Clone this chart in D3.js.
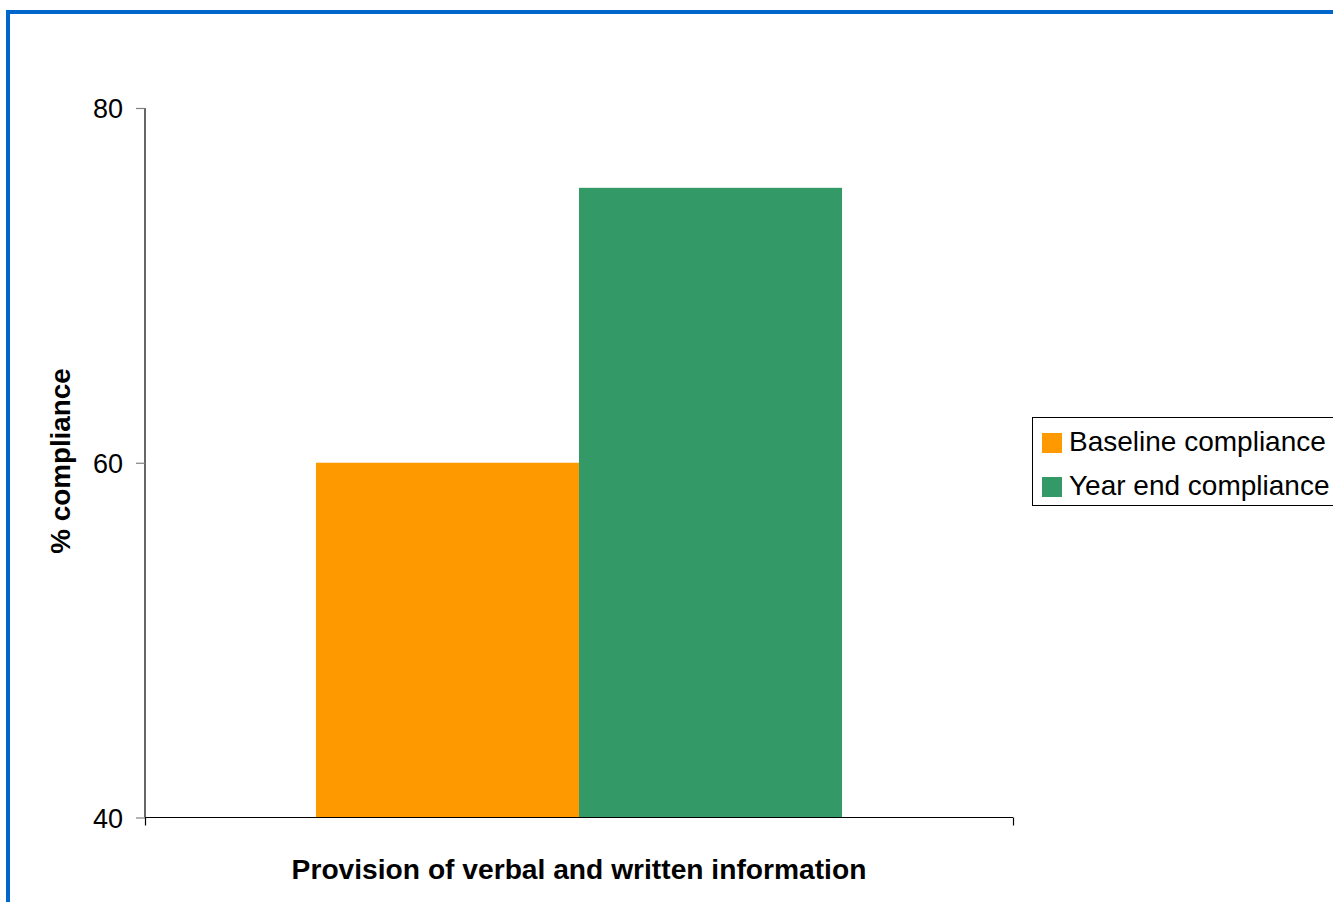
<!DOCTYPE html>
<html><head><meta charset="utf-8">
<script src="https://cdn.jsdelivr.net/npm/d3@7"></script>
<style>html,body{margin:0;padding:0;background:#fff;overflow:hidden}</style>
</head><body>
<svg id="chart" width="1333" height="902"></svg>
<script>
const categories = ["Provision of verbal and written information"];
const seriesNames = ["Baseline compliance", "Year end compliance"];
const seriesValues = [60, 75.5];
const seriesColors = ["#FF9900", "#339966"];
const yTicks = [40, 60, 80];

const svg = d3.select("#chart");
const font = "Liberation Sans, Arial, sans-serif";

// blue frame
svg.append("rect").attr("x", 8).attr("y", 12).attr("width", 1400).attr("height", 1000)
  .attr("fill", "none").attr("stroke", "#0066CC").attr("stroke-width", 4);

const plot = {left: 145, right: 1013, top: 108, bottom: 817.5};
const y = d3.scaleLinear().domain([40, 80]).range([plot.bottom, plot.top]);
const x0 = d3.scaleBand().domain(categories).range([plot.left, plot.right]).paddingInner(0).paddingOuter(0.325);
const x1 = d3.scaleBand().domain(seriesNames).range([0, x0.bandwidth()]).padding(0);

// bars
const g = svg.append("g");
categories.forEach(c => {
  seriesNames.forEach((s, i) => {
    g.append("rect")
      .attr("x", x0(c) + x1(s))
      .attr("y", y(seriesValues[i]))
      .attr("width", x1.bandwidth())
      .attr("height", y(40) - y(seriesValues[i]))
      .attr("fill", seriesColors[i]);
  });
});

// y axis
const yAxis = d3.axisLeft(y).tickValues(yTicks).tickSize(9).tickPadding(13).tickFormat(d3.format("d"));
const ya = svg.append("g").attr("transform", `translate(${plot.left},0)`).call(yAxis);
ya.select(".domain").attr("stroke", "#000").attr("stroke-width", 1.2).attr("d", `M0,${plot.top}V${plot.bottom}`);
ya.selectAll(".tick line").attr("stroke", "#808080").attr("stroke-width", 1.2);
ya.selectAll(".tick text").attr("font-family", font).attr("font-size", 27).attr("fill", "#000").attr("dy", "0.36em");

// x axis
const xEdges = d3.scaleLinear().domain([0, 1]).range([plot.left, plot.right]);
const xAxis = d3.axisBottom(xEdges).tickValues([0, 1]).tickSize(8).tickFormat("");
const xa = svg.append("g").attr("transform", `translate(0,${plot.bottom})`).call(xAxis);
xa.select(".domain").attr("stroke", "#000").attr("stroke-width", 1.2).attr("d", `M${plot.left},0H${plot.right}`);
xa.selectAll(".tick line").attr("stroke", "#000").attr("stroke-width", 1.2);

// axis titles
svg.append("text").attr("x", x0(categories[0]) + x0.bandwidth() / 2).attr("y", 879)
  .attr("text-anchor", "middle").attr("font-family", font).attr("font-weight", "bold")
  .attr("font-size", 28.2).text(categories[0]);

svg.append("text").attr("transform", "translate(70,461) rotate(-90)")
  .attr("text-anchor", "middle").attr("font-family", font).attr("font-weight", "bold")
  .attr("font-size", 27.8).text("% compliance");

// legend
const lg = svg.append("g");
lg.append("rect").attr("x", 1032.5).attr("y", 417.5).attr("width", 320).attr("height", 88)
  .attr("fill", "#fff").attr("stroke", "#000").attr("stroke-width", 1);
seriesNames.forEach((s, i) => {
  lg.append("rect").attr("x", 1042).attr("y", 433 + i * 44).attr("width", 20).attr("height", 20)
    .attr("fill", seriesColors[i]);
  lg.append("text").attr("x", 1069).attr("y", 451 + i * 44)
    .attr("font-family", font).attr("font-size", 28).attr("fill", "#000").text(s);
});
</script>
</body></html>
